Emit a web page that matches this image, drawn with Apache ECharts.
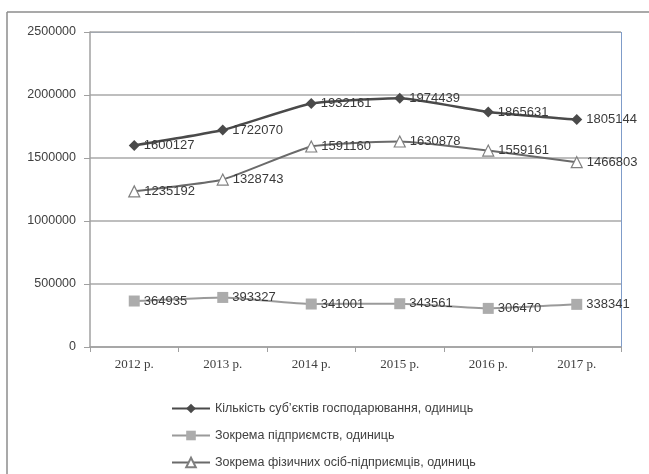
<!DOCTYPE html>
<html>
<head>
<meta charset="utf-8">
<script src="https://cdn.jsdelivr.net/npm/echarts@6/dist/echarts.min.js"></script>
<style>
  html, body { margin: 0; padding: 0; background: #fff; }
  #chart { width: 649px; height: 474px; }
</style>
</head>
<body>
<div id="chart"></div>
<script>
// Years on the category axis
const years = ['2012 р.', '2013 р.', '2014 р.', '2015 р.', '2016 р.', '2017 р.'];

// Series names
const nameTotal = 'Кількість суб\u2019єктів господарювання, одиниць';
const nameEnterprises = 'Зокрема підприємств, одиниць';
const nameEntrepreneurs = 'Зокрема фізичних осіб-підприємців, одиниць';

// Values, units
const totalEntities = [1600127, 1722070, 1932161, 1974439, 1865631, 1805144];
const enterprises = [364935, 393327, 341001, 343561, 306470, 338341];
const entrepreneurs = [1235192, 1328743, 1591160, 1630878, 1559161, 1466803];

// Value axis range
const yMin = 0, yMax = 2500000, yStep = 500000;

const chart = echarts.init(document.getElementById('chart'), null, { renderer: 'canvas' });

const labelStyle = {
  show: true,
  position: 'right',
  distance: 4,
  color: '#3a3a3a',
  fontFamily: 'Liberation Sans',
  fontSize: 13
};

chart.setOption({
  backgroundColor: '#ffffff',
  animation: false,
  graphic: [
    // outer frame (top and left edges)
    { type: 'line', shape: { x1: 7, y1: 12, x2: 649, y2: 12 }, style: { stroke: '#8c8c8c', lineWidth: 1.5 } },
    { type: 'line', shape: { x1: 7, y1: 12, x2: 7, y2: 474 }, style: { stroke: '#8c8c8c', lineWidth: 1.5 } },
    // plot-area border (top and right)
    { type: 'line', shape: { x1: 90, y1: 32.5, x2: 621.5, y2: 32.5 }, style: { stroke: '#8fa6c8', lineWidth: 1 } },
    { type: 'line', shape: { x1: 621.5, y1: 32, x2: 621.5, y2: 348 }, style: { stroke: '#7f9cc9', lineWidth: 1 } }
  ],
  grid: { left: 90, right: 28, top: 32, bottom: 127, containLabel: false },
  legend: {
    orient: 'vertical',
    left: 166,
    top: 397,
    itemGap: 14,
    itemWidth: 38,
    itemHeight: 12,
    textStyle: { color: '#404040', fontFamily: 'Liberation Sans', fontSize: 12.5 },
    data: [nameTotal, nameEnterprises, nameEntrepreneurs]
  },
  xAxis: {
    type: 'category',
    data: years,
    boundaryGap: true,
    axisLine: { lineStyle: { color: '#a0a0a0', width: 1.5 } },
    axisTick: { show: true, length: 5, lineStyle: { color: '#a0a0a0' } },
    axisLabel: { color: '#404040', fontFamily: 'Liberation Serif', fontSize: 13, margin: 11 }
  },
  yAxis: {
    type: 'value',
    min: yMin,
    max: yMax,
    interval: yStep,
    axisLine: { show: true, lineStyle: { color: '#a0a0a0', width: 1.5 } },
    axisTick: { show: true, length: 6, lineStyle: { color: '#a0a0a0' } },
    axisLabel: {
      color: '#404040', fontFamily: 'Liberation Sans', fontSize: 12.5, margin: 14,
      formatter: v => String(v)
    },
    splitLine: { lineStyle: { color: '#a8a8a8', width: 1.5 } }
  },
  series: [
    {
      name: nameTotal,
      type: 'line',
      data: totalEntities,
      smooth: 0.15,
      symbol: 'diamond',
      symbolSize: 11,
      itemStyle: { color: '#4a4a4a' },
      lineStyle: { color: '#4a4a4a', width: 2.5 },
      label: labelStyle,
      z: 3
    },
    {
      name: nameEnterprises,
      type: 'line',
      data: enterprises,
      smooth: 0.15,
      symbol: 'rect',
      symbolSize: 11,
      itemStyle: { color: '#acacac' },
      lineStyle: { color: '#9a9a9a', width: 2 },
      label: labelStyle,
      z: 2
    },
    {
      name: nameEntrepreneurs,
      type: 'line',
      data: entrepreneurs,
      smooth: 0.15,
      symbol: 'triangle',
      symbolSize: 11,
      itemStyle: { color: '#ffffff', borderColor: '#808080', borderWidth: 1.2 },
      lineStyle: { color: '#6a6a6a', width: 2 },
      label: labelStyle,
      z: 2
    }
  ]
});
</script>
</body>
</html>
